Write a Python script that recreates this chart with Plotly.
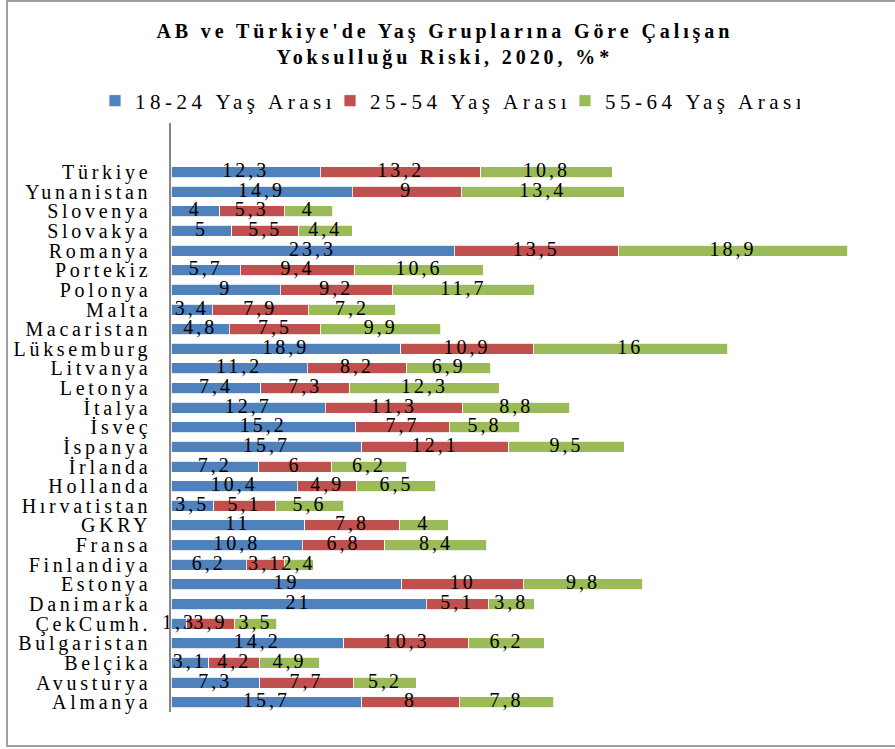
import plotly.graph_objects as go

countries = ["Almanya", "Avusturya", "Belçika", "Bulgaristan", "ÇekCumh.", "Danimarka",
             "Estonya", "Finlandiya", "Fransa", "GKRY", "Hırvatistan", "Hollanda",
             "İrlanda", "İspanya", "İsveç", "İtalya", "Letonya", "Litvanya", "Lüksemburg",
             "Macaristan", "Malta", "Polonya", "Portekiz", "Romanya", "Slovakya",
             "Slovenya", "Yunanistan", "Türkiye"]

age_18_24 = [15.7, 7.3, 3.1, 14.2, 1.3, 21, 19, 6.2, 10.8, 11, 3.5, 10.4,
             7.2, 15.7, 15.2, 12.7, 7.4, 11.2, 18.9, 4.8, 3.4, 9, 5.7, 23.3, 5, 4, 14.9, 12.3]
age_25_54 = [8, 7.7, 4.2, 10.3, 3.9, 5.1, 10, 3.1, 6.8, 7.8, 5.1, 4.9,
             6, 12.1, 7.7, 11.3, 7.3, 8.2, 10.9, 7.5, 7.9, 9.2, 9.4, 13.5, 5.5, 5.3, 9, 13.2]
age_55_64 = [7.8, 5.2, 4.9, 6.2, 3.5, 3.8, 9.8, 2.4, 8.4, 4, 5.6, 6.5,
             6.2, 9.5, 5.8, 8.8, 12.3, 6.9, 16, 9.9, 7.2, 11.7, 10.6, 18.9, 4.4, 4, 13.4, 10.8]

series_names = ["18-24 Yaş Arası", "25-54 Yaş Arası", "55-64 Yaş Arası"]
series_values = [age_18_24, age_25_54, age_55_64]
colors = ["#4F81BD", "#C0504D", "#9BBB59"]


def fmt(v):
    return ("%g" % v).replace(".", ",")


fig = go.Figure()
for name, vals, col in zip(series_names, series_values, colors):
    fig.add_trace(go.Bar(
        y=countries, x=vals, name=name, orientation="h",
        marker=dict(color=col, line=dict(color="#ffffff", width=0.8)),
        hoverinfo="skip",
    ))

# data labels drawn above all bars, centred in each segment
base = [0.0] * len(countries)
for vals in series_values:
    centers = [b + v / 2 for b, v in zip(base, vals)]
    fig.add_trace(go.Scatter(
        x=centers, y=countries, mode="text", text=[fmt(v) for v in vals],
        textposition="middle center", showlegend=False, cliponaxis=False,
        textfont=dict(family="Liberation Serif", size=20, color="#000000"),
        hoverinfo="skip",
    ))
    base = [b + v for b, v in zip(base, vals)]

fig.update_layout(
    width=895, height=749,
    barmode="stack", bargap=0.44,
    paper_bgcolor="#ffffff", plot_bgcolor="#ffffff",
    margin=dict(l=171, r=24, t=123, b=37, autoexpand=False),
    font=dict(family="Liberation Serif", color="#000000"),
    title=dict(
        text="<b>AB ve Türkiye'de Yaş Gruplarına Göre Çalışan<br>Yoksulluğu Riski, 2020, %*</b>",
        x=0.497, xanchor="center", xref="container",
        y=1 - 38 / 749, yanchor="top", yref="container",
        font=dict(family="Liberation Serif", size=20, color="#000000"),
    ),
    legend=dict(
        orientation="h", xref="paper", yref="paper",
        x=(95 - 171) / 700, xanchor="left", y=(712 - 101) / 589, yanchor="middle",
        entrywidth=190, entrywidthmode="pixels",
        font=dict(family="Liberation Serif", size=21, color="#000000"),
        itemwidth=30, traceorder="normal",
    ),
    xaxis=dict(visible=False, range=[0, 57.6], fixedrange=True),
    yaxis=dict(
        type="category", range=[-0.5, 29.5], showline=True, linecolor="#868686",
        linewidth=1.5, ticks="", showgrid=False, zeroline=False,
        tickmode="array", tickvals=countries, ticktext=countries,
        tickfont=dict(family="Liberation Serif", size=20, color="#000000"),
        ticklabelstandoff=14, fixedrange=True,
    ),
    shapes=[dict(
        type="rect", xref="paper", yref="paper",
        x0=(7 - 171) / 700, x1=(905 - 171) / 700,
        y0=(712 - 746) / 589, y1=(712 - 1) / 589,
        line=dict(color="#a0a0a0", width=2), fillcolor="rgba(0,0,0,0)", layer="below",
    )],
)

css = ("body{margin:0}"
       ".main-svg .gtitle{letter-spacing:3.9px}"
       ".main-svg .legendtext{letter-spacing:4.5px}"
       ".main-svg .ytick text{letter-spacing:3.7px}"
       ".main-svg .textpoint text{letter-spacing:3px}")
post = ("var s=document.createElement('style');s.textContent='" + css + "';"
        "document.head.appendChild(s);")

fig.write_html("out.html", post_script=post, config={"displayModeBar": False})
